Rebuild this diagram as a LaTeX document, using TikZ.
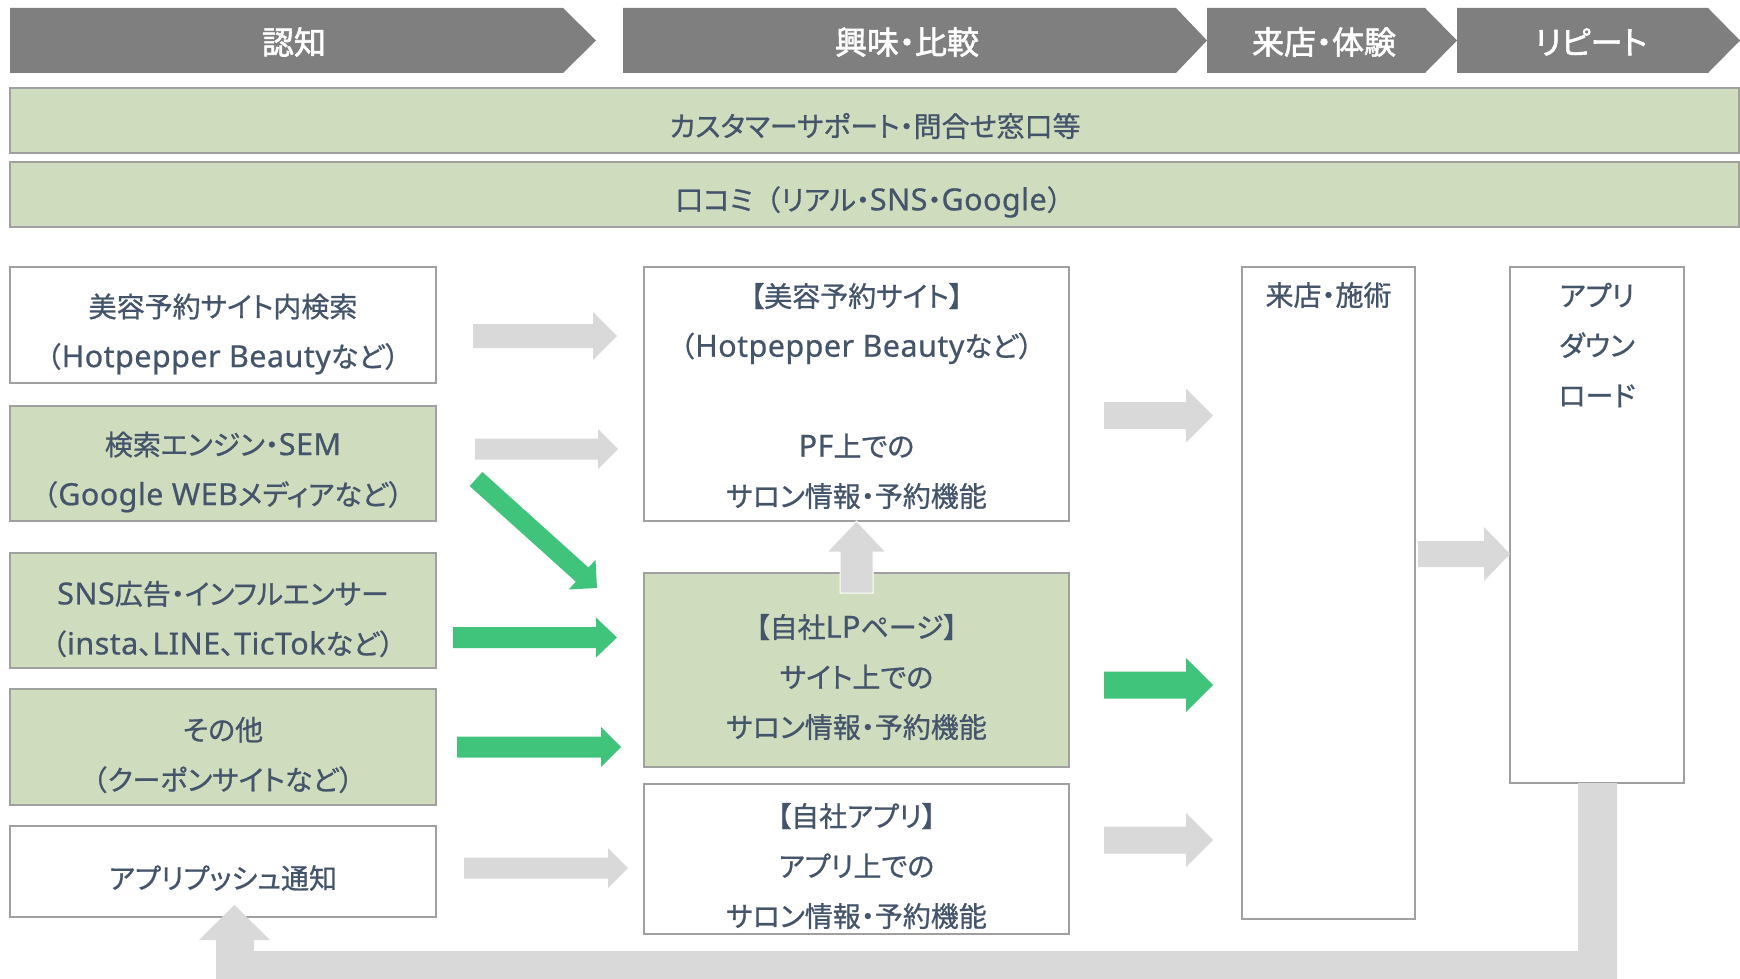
\documentclass[tikz,border=0pt]{standalone}
\usepackage{fontspec}
\setmainfont{Noto Sans CJK JP}[RawFeature=+palt, FakeBold=0.8]
\newfontfamily\hdrfont{Noto Sans CJK JP}[RawFeature=+palt, FakeBold=1.8]
\newfontfamily\fwfont{Noto Sans CJK JP}[FakeBold=0.8]
\newfontfamily\latinfont{Noto Sans}[FakeBold=0.6, LetterSpace=1.5]
\newcommand{\lp}{{\fwfont （}}
\newcommand{\rp}{{\fwfont ）}}
\newcommand{\lat}[1]{{\latinfont\fontsize{30.5}{50}\selectfont #1}}
\usetikzlibrary{calc}
\definecolor{hdr}{HTML}{7F7F7F}
\definecolor{grn}{HTML}{CFDCBE}
\definecolor{txt}{HTML}{44546A}
\definecolor{garr}{HTML}{D9D9D9}
\definecolor{greenarr}{HTML}{40C47C}
\definecolor{bord}{HTML}{A0A0A0}
\tikzset{
  box/.style={draw=bord, line width=1.5pt, fill=white, inner sep=0pt, outer sep=0pt},
  gbox/.style={box, fill=grn},
  lbl/.style={text=txt, font=\fontsize{28}{50}\selectfont, align=center, inner sep=0pt},
  hlbl/.style={text=white, font=\hdrfont\fontsize{32}{36}\selectfont, inner sep=0pt},
  grayarrow/.style={fill=garr},
  greenarrow/.style={fill=greenarr},
}
\newcommand{\rectnode}[6]{%
  \node[#2, minimum width={(#5-#3)*1pt}, minimum height={(#6-#4)*1pt}] (#1) at ({(#3+#5)/2},{(#4+#6)/2}) {};}
% style, start, tip, shaft half, head half, head length
\newcommand{\blockarrow}[6]{%
  \coordinate (bac) at ($(#3)!#6pt!(#2)$);
  \path[#1] ($(#2)!#4pt!90:(#3)$) -- ($(bac)!#4pt!90:(#3)$) -- ($(bac)!#5pt!90:(#3)$) -- (#3)
    -- ($(bac)!#5pt!-90:(#3)$) -- ($(bac)!#4pt!-90:(#3)$) -- ($(#2)!#4pt!-90:(#3)$) -- cycle;}
\begin{document}
\begin{tikzpicture}[x=1pt,y=-1pt]
\useasboundingbox (0,0) rectangle (1740,979);
% header chevrons
\fill[hdr] (10,8) -- (563,8) -- (596,40.5) -- (563,73) -- (10,73) -- cycle;
\fill[hdr] (623,8) -- (1176,8) -- (1207,40.5) -- (1176,73) -- (623,73) -- cycle;
\fill[hdr] (1207,8) -- (1425,8) -- (1457,40.5) -- (1425,73) -- (1207,73) -- cycle;
\fill[hdr] (1457,8) -- (1708,8) -- (1740,40.5) -- (1708,73) -- (1457,73) -- cycle;
\node[hlbl] (h1) at (294,42) {認知};
\node[hlbl] (h2) at (907,42) {興味・比較};
\node[hlbl] (h3) at (1324,42) {来店・体験};
\node[hlbl] (h4) at (1591,42) {リピート};
% bars
\rectnode{bar1}{gbox}{10}{88}{1739}{153}
\rectnode{bar2}{gbox}{10}{162}{1739}{227}
\node[lbl] (bar1t) at (875,126) {カスタマーサポート・問合せ窓口等};
\node[lbl] (bar2t) at (875,202) {口コミ\lp リアル・\lat{SNS}・\lat{Google}\rp};
% left boxes
\rectnode{b1}{box}{10}{267}{436}{383}
\rectnode{b2}{gbox}{10}{406}{436}{521}
\rectnode{b3}{gbox}{10}{553}{436}{668}
\rectnode{b4}{gbox}{10}{689}{436}{805}
\rectnode{b5}{box}{10}{826}{436}{917}
\node[lbl] (b1t) at (223,334) {美容予約サイト内検索\\\lp\lat{Hotpepper Beauty}など\rp};
\node[lbl] (b2t) at (223,472) {検索エンジン・\lat{SEM}\\\lp\lat{Google WEB}メディアなど\rp};
\node[lbl] (b3t) at (223,619) {\lat{SNS}広告・インフルエンサー\\\lp\lat{insta}、\lat{LINE}、\lat{TicTok}など\rp};
\node[lbl] (b4t) at (223,755) {その他\\\lp クーポンサイトなど\rp};
\node[lbl] (b5t) at (223,878) {アプリプッシュ通知};
% middle boxes
\rectnode{pf}{box}{644}{267}{1069}{521}
\rectnode{lp}{gbox}{644}{573}{1069}{767}
\rectnode{app}{box}{644}{784}{1069}{934}
\node[lbl] (pft) at (856.5,396) {【美容予約サイト】\\\lp\lat{Hotpepper Beauty}など\rp\\\mbox{}\\\lat{PF}上での\\サロン情報・予約機能};
\node[lbl] (lpt) at (856.5,677) {【自社\lat{LP}ページ】\\サイト上での\\サロン情報・予約機能};
\node[lbl] (appt) at (856.5,866) {【自社アプリ】\\アプリ上での\\サロン情報・予約機能};
% right boxes
\rectnode{visit}{box}{1242}{267}{1415}{919}
\rectnode{dl}{box}{1510}{267}{1684}{783}
\node[lbl] (visitt) at (1328.5,295) {来店・施術};
\node[lbl] (dlt) at (1597,345) {アプリ\\ダウン\\ロード};
% arrow end points
\coordinate (a1s) at (473,336);   \coordinate (a1e) at (617,336);
\coordinate (a2s) at (475,449);   \coordinate (a2e) at (618,449);
\coordinate (dgs) at (476,479);   \coordinate (dge) at (597,588);
\coordinate (a3s) at (453,637.5); \coordinate (a3e) at (617,637.5);
\coordinate (a4s) at (457,747);   \coordinate (a4e) at (621,747);
\coordinate (a5s) at (464,868);   \coordinate (a5e) at (628,868);
\coordinate (ups) at (856.5,593); \coordinate (upe) at (856.5,521);
\coordinate (r1s) at (1104,415.5);\coordinate (r1e) at (1213,415.5);
\coordinate (r2s) at (1104,685);  \coordinate (r2e) at (1213,685);
\coordinate (r3s) at (1104,840);  \coordinate (r3e) at (1213,840);
\coordinate (r4s) at (1418,554);  \coordinate (r4e) at (1510,554);
\blockarrow{grayarrow}{a1s}{a1e}{12}{24}{24}
\blockarrow{grayarrow}{a2s}{a2e}{10.5}{20}{20}
\blockarrow{greenarrow}{dgs}{dge}{9.5}{20}{20}
\blockarrow{greenarrow}{a3s}{a3e}{10.5}{20}{21}
\blockarrow{greenarrow}{a4s}{a4e}{10.5}{20}{20}
\blockarrow{grayarrow}{a5s}{a5e}{10.5}{20}{20}
\blockarrow{grayarrow,draw=white,line width=1pt}{ups}{upe}{16.5}{29.5}{31}
\blockarrow{grayarrow}{r1s}{r1e}{13.5}{27}{27}
\blockarrow{greenarrow}{r2s}{r2e}{13.5}{27}{27}
\blockarrow{grayarrow}{r3s}{r3e}{13.5}{27}{27}
\blockarrow{grayarrow}{r4s}{r4e}{13}{27}{26}
% return arrow from download box to push notification box
\fill[garr] (1578,783) -- (1617,783) -- (1617,979) -- (216,979) -- (216,940) -- (199,940)
  -- (234.5,905) -- (270,940) -- (254,940) -- (254,951) -- (1578,951) -- cycle;
\end{tikzpicture}
\end{document}
